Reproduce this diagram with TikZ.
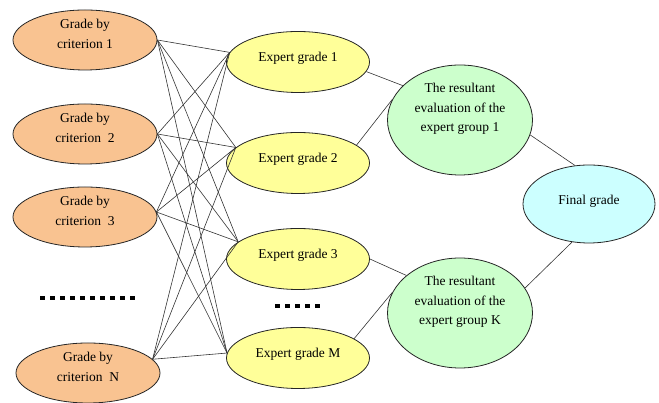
\documentclass[tikz,border=0pt]{standalone}
\usepackage{fontspec}
\setmainfont{Liberation Serif}
\usetikzlibrary{shapes.geometric}

\definecolor{critfill}{HTML}{F9C391}
\definecolor{expfill}{HTML}{FFFF99}
\definecolor{groupfill}{HTML}{CCFFCC}
\definecolor{finalfill}{HTML}{CCFFFF}

\begin{document}
\begin{tikzpicture}
[
    x=1pt, y=1pt,
    every node/.style={ellipse, draw=black!85, line width=0.8pt, inner sep=0pt,
        align=center, font=\fontsize{13.5}{19.5}\selectfont},
    crit/.style={fill=critfill, minimum width=144pt, minimum height=60pt, text depth=12pt},
    expert/.style={fill=expfill, minimum width=143pt, minimum height=61pt, text depth=10pt},
    group/.style={fill=groupfill, minimum width=145pt, minimum height=110pt, text depth=25pt},
    final/.style={fill=finalfill, minimum width=132pt, minimum height=78pt, text depth=8pt},
    link/.style={draw=black!80, line width=0.6pt},
    dotsline/.style={line width=4pt, dash pattern=on 5pt off 5pt},
]
\useasboundingbox (0,0) rectangle (659,403);

% criteria
\node [crit] (c1) at (85,363) {Grade by\\criterion 1};
\node [crit] (c2) at (85,269) {Grade by\\criterion \ 2};
\node [crit] (c3) at (85,186) {Grade by\\criterion \ 3};
\node [crit] (cN) at (88,30) {Grade by\\criterion \ N};

% experts
\node [expert] (e1) at (298,341) {Expert grade 1};
\node [expert] (e2) at (298,240) {Expert grade 2};
\node [expert] (e3) at (298,144) {Expert grade 3};
\node [expert] (eM) at (298,45) {Expert grade M};

% groups and result
\node [group] (g1) at (460,283) {The resultant\\evaluation of the\\expert group 1};
\node [group] (gK) at (460,90) {The resultant\\evaluation of the\\expert group K};
\node [final] (f) at (589,199) {Final grade};

% criteria to experts
\foreach \c/\ca in {c1/0, c2/0, c3/4, cN/12}
    \foreach \e/\ea in {e1/172, e2/166, e3/164, eM/176}
        \draw [link] (\c.\ca) -- (\e.\ea);

% experts to groups
\draw [link] (e1.-8) -- (g1.149);
\draw [link] (e2.17) -- (g1.163);
\draw [link] (e3.0) -- (gK.145);
\draw [link] (eM.19) -- (gK.163);

% groups to final
\draw [link] (g1.-12) -- (f.110);
\draw [link] (gK.21) -- (f.246);

% omitted rows
\coordinate (dl1) at (40,105);
\coordinate (dl2) at (135,105);
\coordinate (dm1) at (275,97);
\coordinate (dm2) at (324,97);
\draw [dotsline] (dl1) -- (dl2);
\draw [dotsline] (dm1) -- (dm2);
\end{tikzpicture}
\end{document}
